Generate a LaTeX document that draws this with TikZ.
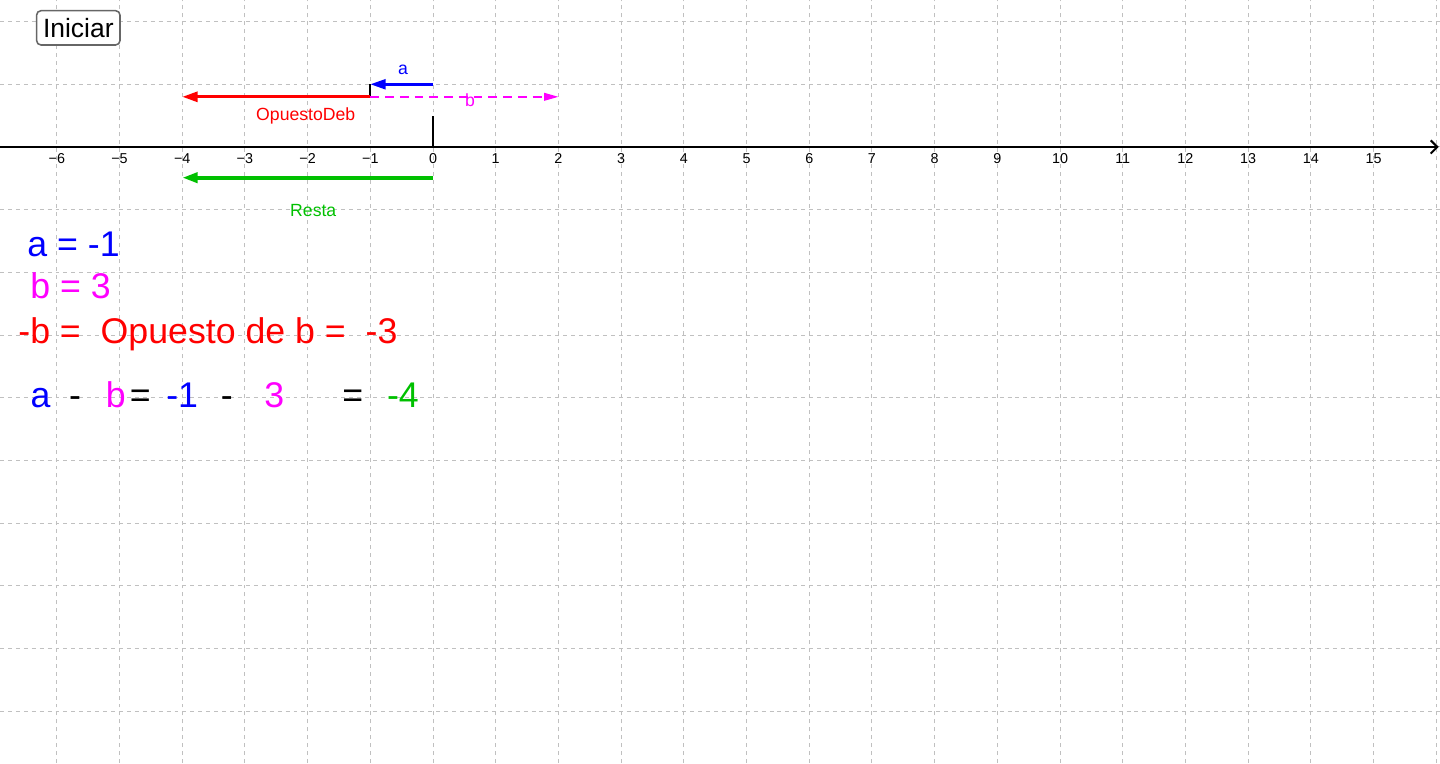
\documentclass[tikz,border=0pt]{standalone}
\usepackage{fontspec}
\setmainfont{Liberation Sans}
\usetikzlibrary{arrows.meta}

\definecolor{ggred}{RGB}{255,0,0}
\definecolor{ggblue}{RGB}{0,0,255}
\definecolor{ggmag}{RGB}{255,0,255}
\definecolor{gggreen}{RGB}{0,192,0}
\definecolor{gggrid}{RGB}{192,192,192}
\newcommand{\bigtxt}{\fontsize{16.2}{19}\selectfont}
\newcommand{\smalltxt}{\fontsize{8}{9.6}\selectfont}
\newcommand{\ticktxt}{\fontsize{6.5}{8}\selectfont}

\begin{document}
\begin{tikzpicture}[
  vec/.style={line width=1.4pt, -{Triangle[length=7pt,width=4.5pt]}},
  lbl/.style={anchor=base, font=\smalltxt, inner sep=0pt},
  eq/.style={anchor=base, font=\bigtxt, inner sep=0pt},
]
\useasboundingbox (-6.906,-9.825) rectangle (16.06,2.344);

% grid
\draw[gggrid, line width=0.45pt, dash pattern=on 1.8pt off 1.8pt] (-6.906,-9.825) grid (16.06,2.344);

% axis
\coordinate (axl) at (-6.906,0);
\coordinate (axr) at (16.04,0);
\draw[line width=0.9pt, -{Straight Barb[length=3pt,width=6pt]}] (axl) -- (axr);
\foreach \k in {-6,...,15}
  \node[anchor=base, font=\ticktxt, inner sep=0pt] (tick\k) at (\k,-0.26)
    {\ifnum\k<0 −\number\numexpr-\k\relax\else\k\fi};

% button
\node[draw=black!60, line width=0.7pt, rounded corners=2pt, fill=white,
  minimum width=1.33cm, minimum height=0.547cm, inner sep=0pt,
  font=\fontsize{12}{14}\selectfont] (iniciar) at (-5.657,1.90) {Iniciar};

% vectors
\coordinate (o) at (0,0);
\coordinate (ztop) at (0,0.49);
\draw[line width=1.2pt] (o) -- (ztop);

\coordinate (a0) at (0,1);
\coordinate (a1) at (-1,1);
\draw[vec, ggblue, line width=1.2pt] (a0) -- (a1);

\coordinate (b0) at (-1,0.8);
\draw[line width=1pt] (a1) -- (b0);
\coordinate (b1) at (2,0.8);
\coordinate (nb1) at (-4,0.8);
\draw[ggmag, line width=0.7pt, dash pattern=on 4pt off 2.7pt,
  -{Triangle[length=6.5pt,width=3.5pt]}] (b0) -- (b1);
\draw[vec, ggred] (b0) -- (nb1);

\coordinate (r0) at (0,-0.49);
\coordinate (r1) at (-4,-0.49);
\draw[vec, gggreen, line width=1.8pt] (r0) -- (r1);

% labels
\node[lbl, ggblue] (alab) at (-0.48,1.15) {a};
\node[lbl, ggred] (oplab) at (-2.03,0.42) {OpuestoDeb};
\node[lbl, ggmag] (blab) at (0.59,0.64) {b};
\node[lbl, gggreen] (reslab) at (-1.91,-1.11) {Resta};

% values
\node[eq, anchor=base west, ggblue] (aval) at (-6.475,-1.75) {a = -1};
\node[eq, anchor=base west, ggmag] (bval) at (-6.43,-2.41) {b = 3};
\node[eq, anchor=base west, ggred] (opval) at (-6.62,-3.13) {-b = \ Opuesto de b = \ -3};

% a - b
\node[eq, ggblue] (ea) at (-6.26,-4.16) {a};
\node[eq] (em1) at (-5.71,-4.16) {-};
\node[eq, ggmag] (eb) at (-5.06,-4.16) {b};
\node[eq] (eq1) at (-4.67,-4.16) {=};
\node[eq, ggblue] (ea2) at (-4.00,-4.16) {-1};
\node[eq] (em2) at (-3.29,-4.16) {-};
\node[eq, ggmag] (eb2) at (-2.53,-4.16) {3};
\node[eq] (eq2) at (-1.28,-4.16) {=};
\node[eq, gggreen] (eres) at (-0.48,-4.16) {-4};
\end{tikzpicture}
\end{document}
